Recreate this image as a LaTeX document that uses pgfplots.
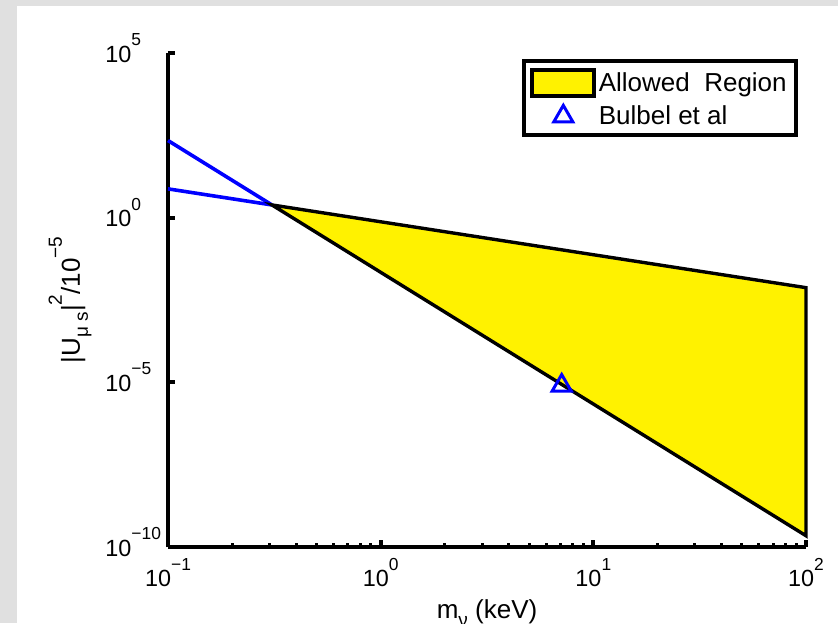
\documentclass[border=0pt]{standalone}
\usepackage{pgfplots}
\pgfplotsset{compat=1.18}
\usepackage{fontspec}
\setmainfont{Liberation Sans}
\definecolor{bggrey}{RGB}{224,224,224}
\newcommand\ex[1]{\raisebox{8.2pt}{\fontsize{8.7}{9}\selectfont #1}}
\newcommand\lsup[1]{\raisebox{9pt}{\fontsize{9.5}{10}\selectfont #1}}
\newcommand\lsub[1]{\raisebox{-4pt}{\fontsize{9.5}{10}\selectfont #1}}
\pgfplotsset{
  arealeg/.style={legend image code/.code={\draw[line width=2pt,draw=black,fill=yellow] (0pt,-6.5pt) rectangle (31pt,6.5pt);}},
  markleg/.style={legend image code/.code={\draw[mark repeat=2,mark phase=2,##1] plot coordinates {(0pt,0pt)(15.5pt,0pt)(31pt,0pt)};}}
}
\begin{document}
\begin{tikzpicture}
\fill[bggrey] (-84pt,-38pt) rectangle (335pt,273.5pt);
\fill[white] (-75.5pt,-38pt) rectangle (335pt,270.5pt);
\path[use as bounding box] (-84pt,-38pt) rectangle (335pt,273.5pt);
\begin{axis}[
 at={(0,0)}, anchor=south west,
 scale only axis, width=319pt, height=247pt,
 xmode=log, ymode=log,
 xmin=0.1, xmax=100, ymin=1e-10, ymax=1e5,
 axis x line*=bottom, axis y line*=left,
 axis line style={line width=2pt, black},
 clip=false,
 xtick={0.1,1,10,100},
 xticklabels={10\ex{−1},10\ex{0},10\ex{1},10\ex{2}},
 minor xtick={0.2,0.3,0.4,0.5,0.6,0.7,0.8,0.9,2,3,4,5,6,7,8,9,20,30,40,50,60,70,80,90},
 ytick={1e-10,1e-5,1,1e5},
 yticklabels={10\ex{−10},10\ex{−5},10\ex{0},10\ex{5}},
 minor ytick={},
 tick align=inside,
 major tick length=3.5pt, minor tick length=1.8pt,
 major tick style={line width=2pt, black},
 minor tick style={line width=1.5pt, black},
 tick label style={font=\fontsize{11.7}{14}\selectfont},
 xticklabel style={anchor=north, inner sep=0pt, yshift=-5.5pt},
 yticklabel style={anchor=base west, inner sep=0pt, xshift=-31.5pt, yshift=-4.5pt},
 xlabel={m\lsub{ν} (keV)},
 ylabel={|U\lsub{μ s}|\lsup{2}/10\lsup{−5}},
 label style={font=\fontsize{13}{15}\selectfont},
 xlabel style={at={(axis description cs:0.5,-0.1316)}, anchor=base, yshift=-3pt},
 ylabel style={at={(axis description cs:-0.1536,0.5)}, anchor=center},
 legend style={at={(0.987,0.987)}, anchor=north east, draw=black, line width=2pt, fill=white,
   inner xsep=3.25pt, inner ysep=3.5pt, row sep=3pt,
   font=\fontsize{13}{15}\selectfont,
   nodes={inner xsep=1.25pt, inner ysep=0.5pt}},
 legend cell align=left,
]
\addplot[blue, line width=1.8pt, forget plot] coordinates {(0.1,220) (0.308,2.44)};
\addplot[blue, line width=1.8pt, forget plot] coordinates {(0.1,7.5) (0.308,2.44)};
\addplot[draw=black, line width=1.7pt, fill=yellow, arealeg]
  coordinates {(0.308,2.44) (100,0.0075) (100,2.2e-10)} -- cycle;
\addlegendentry{Allowed\ \ Region}
\addplot[only marks, mark=triangle, mark size=5.5pt, blue, line width=1.5pt, markleg]
  coordinates {(7.1,8e-6)};
\addlegendentry{Bulbel et al}
\end{axis}
\end{tikzpicture}
\end{document}
